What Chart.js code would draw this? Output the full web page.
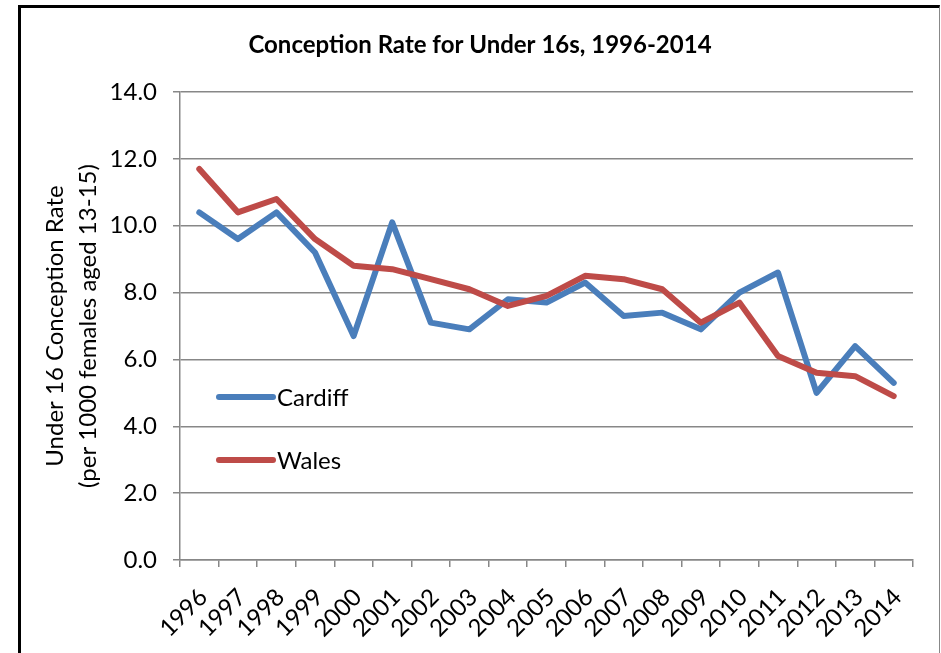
<!DOCTYPE html>
<html>
<head>
<meta charset="utf-8">
<script src="https://cdn.jsdelivr.net/npm/chart.js@4"></script>
<style>
  html, body { margin: 0; padding: 0; background: #fff; overflow: hidden; }
  #frame {
    position: absolute; left: 18px; top: 5px;
    width: 918px; height: 660px;
    border-left: 3px solid #000; border-top: 3px solid #000; border-right: 1px solid #888;
  }
  #wrap { position: absolute; left: 0; top: 0; width: 918px; height: 645px; }
</style>
</head>
<body>
<div id="frame"><div id="wrap"><canvas id="rateChart"></canvas></div></div>
<script>
const years = ['1996', '1997', '1998', '1999', '2000', '2001', '2002', '2003', '2004', '2005',
  '2006', '2007', '2008', '2009', '2010', '2011', '2012', '2013', '2014'];
const cardiff = [10.4, 9.6, 10.4, 9.2, 6.7, 10.1, 7.1, 6.9, 7.8, 7.7, 8.3, 7.3, 7.4, 6.9, 8.0, 8.6, 5.0, 6.4, 5.3];
const wales = [11.7, 10.4, 10.8, 9.6, 8.8, 8.7, 8.4, 8.1, 7.6, 7.9, 8.5, 8.4, 8.1, 7.1, 7.7, 6.1, 5.6, 5.5, 4.9];
const yTicks = [0, 2, 4, 6, 8, 10, 12, 14];

const FONT = 'Lato, "Liberation Sans", sans-serif';
const GRID = '#878787';

// legend drawn inside the plot, like the Excel original
const insideLegend = {
  id: 'insideLegend',
  afterDatasetsDraw(chart) {
    const { ctx, chartArea } = chart;
    ctx.save();
    ctx.font = '24px ' + FONT;
    ctx.textBaseline = 'middle';
    ctx.fillStyle = '#000';
    chart.data.datasets.forEach((ds, i) => {
      const y = chartArea.top + 305 + i * 63;
      const x0 = chartArea.left + 39;
      ctx.strokeStyle = ds.borderColor;
      ctx.lineWidth = 6;
      ctx.lineCap = 'round';
      ctx.beginPath();
      ctx.moveTo(x0, y);
      ctx.lineTo(x0 + 54, y);
      ctx.stroke();
      ctx.fillText(ds.label, x0 + 58, y + 1);
    });
    ctx.restore();
  }
};

const ctx = document.getElementById('rateChart');

new Chart(ctx, {
  type: 'line',
  data: {
    labels: years,
    datasets: [{
      label: 'Cardiff',
      data: cardiff,
      borderColor: '#4A7EBB',
      backgroundColor: '#4A7EBB',
      borderWidth: 6,
      pointRadius: 0,
      borderCapStyle: 'round',
      borderJoinStyle: 'round',
      order: 1
    }, {
      label: 'Wales',
      data: wales,
      borderColor: '#BE4B48',
      backgroundColor: '#BE4B48',
      borderWidth: 6,
      pointRadius: 0,
      borderCapStyle: 'round',
      borderJoinStyle: 'round',
      order: 0
    }]
  },
  options: {
    responsive: true,
    maintainAspectRatio: false,
    animation: false,
    layout: { padding: { left: 26, right: 26, top: 0, bottom: 0 } },
    plugins: {
      legend: { display: false },
      tooltip: { enabled: false },
      title: {
        display: true,
        text: 'Conception Rate for Under 16s, 1996-2014',
        color: '#000',
        font: { family: FONT, size: 24, weight: 'bold', lineHeight: '24px' },
        padding: { top: 25, bottom: 35 }
      }
    },
    scales: {
      x: {
        offset: true,
        grid: { offset: true, drawOnChartArea: false, drawTicks: true, tickLength: 7, color: GRID, lineWidth: 1.5 },
        border: { color: GRID, width: 1.5 },
        ticks: {
          color: '#000',
          font: { family: FONT, size: 24 },
          maxRotation: 45,
          minRotation: 45,
          autoSkip: false,
          padding: 16,
          labelOffset: 4
        },
        afterFit(scale) { scale.height = 93; }
      },
      y: {
        min: 0,
        max: 14,
        afterBuildTicks(scale) { scale.ticks = yTicks.map(v => ({ value: v })); },
        grid: { color: GRID, lineWidth: 1.5, tickLength: 7 },
        border: { color: GRID, width: 1.5 },
        ticks: {
          color: '#000',
          font: { family: FONT, size: 24 },
          padding: 16,
          callback: v => v.toFixed(1)
        },
        title: {
          display: true,
          text: ['Under 16 Conception Rate', '(per 1000 females aged 13-15)'],
          color: '#000',
          font: { family: FONT, size: 24, lineHeight: '33px' },
          padding: { top: -8, bottom: 0 }
        },
        afterFit(scale) { scale.width = 133; }
      }
    }
  },
  plugins: [insideLegend]
});
</script>
</body>
</html>
